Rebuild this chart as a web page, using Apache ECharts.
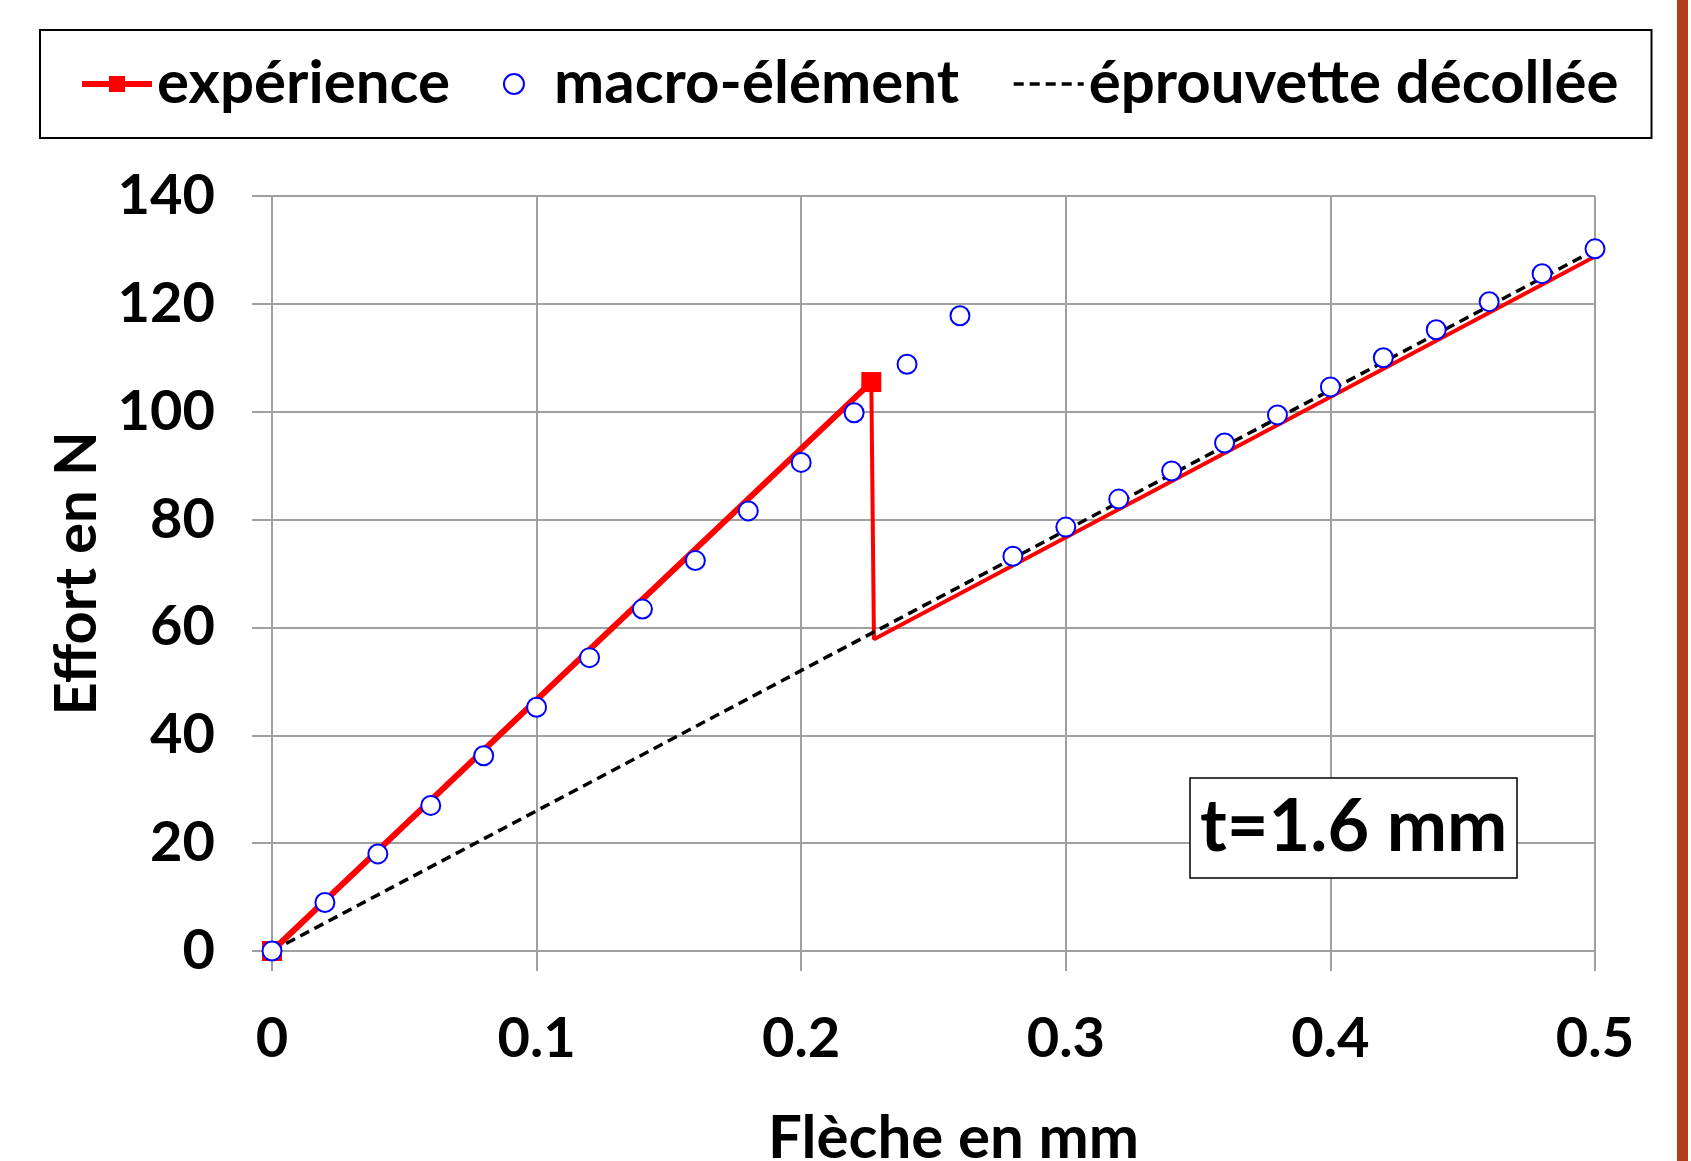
<!DOCTYPE html>
<html>
<head>
<meta charset="utf-8">
<script src="https://cdn.jsdelivr.net/npm/echarts@6/dist/echarts.min.js"></script>
<style>
html,body{margin:0;padding:0;background:#fff;}
#chart{width:1691px;height:1161px;}
</style>
</head>
<body>
<div id="chart"></div>
<script>
// ---- data ----
const expX = [0, 0.2265, 0.2275, 0.5];
const expY = [0, 105.5, 57.8, 128.8];
const macroX = [0, 0.02, 0.04, 0.06, 0.08, 0.10, 0.12, 0.14, 0.16, 0.18, 0.20, 0.22, 0.24, 0.26,
                0.28, 0.30, 0.32, 0.34, 0.36, 0.38, 0.40, 0.42, 0.44, 0.46, 0.48, 0.50];
const macroY = [0, 9.0, 18.0, 27.0, 36.2, 45.2, 54.4, 63.4, 72.4, 81.6, 90.6, 99.8, 108.8, 117.8,
                73.2, 78.6, 83.8, 89.0, 94.2, 99.4, 104.6, 110.0, 115.2, 120.4, 125.6, 130.2];
const decolX = [0, 0.5];
const decolY = [0, 130];
const xTicks = ['0', '0.1', '0.2', '0.3', '0.4', '0.5'];
const yTicks = ['0', '20', '40', '60', '80', '100', '120', '140'];
const legendNames = ['expérience', 'macro-élément', 'éprouvette décollée'];

const zip = (xs, ys) => xs.map((x, i) => [x, ys[i]]);
const expPts = zip(expX, expY);
const expLoading = expPts.slice(0, 2);
const expAfter = expPts.slice(1);

const FONT = 'Lato';
const GRIDC = '#a0a0a0';

const chart = echarts.init(document.getElementById('chart'), null, {renderer: 'canvas'});
chart.setOption({
  animation: false,
  backgroundColor: '#ffffff',
  textStyle: {fontFamily: FONT},
  title: {
    text: 't=1.6 mm',
    left: 1190, top: 778,
    borderColor: '#000', borderWidth: 1.5,
    padding: [10, 10, 10, 10],
    backgroundColor: '#fff',
    textStyle: {fontFamily: FONT, fontSize: 72, fontWeight: 'bold', color: '#000', lineHeight: 80}
  },
  legend: {
    data: [
      {name: legendNames[0], lineStyle: {width: 6}},
      {name: legendNames[1]},
      {name: legendNames[2], lineStyle: {width: 3.5}}
    ],
    left: 40, top: 30,
    orient: 'horizontal',
    borderColor: '#000', borderWidth: 2,
    padding: [24, 33, 24, 39],
    itemWidth: 70, itemHeight: 20, itemGap: 53,
    textStyle: {fontFamily: FONT, fontSize: 60, fontWeight: 'bold', color: '#000', lineHeight: 60}
  },
  grid: {left: 272, right: 96, top: 196, bottom: 210, outerBoundsMode: 'none', containLabel: false},
  xAxis: {
    type: 'value', min: 0, max: 0.5, interval: 0.1,
    name: 'Flèche en mm', nameLocation: 'middle', nameGap: 158,
    nameTextStyle: {fontFamily: FONT, fontSize: 60, fontWeight: 'bold', color: '#000', padding: [0, 0, 0, 40]},
    axisLine: {show: true, lineStyle: {color: GRIDC, width: 2}},
    axisTick: {show: true, length: 20, lineStyle: {color: GRIDC, width: 2}},
    splitLine: {show: true, lineStyle: {color: GRIDC, width: 2}},
    axisLabel: {fontFamily: FONT, fontSize: 56, fontWeight: 'bold', color: '#000', margin: 60,
      formatter: (v) => xTicks[Math.round(v * 10)]}
  },
  yAxis: {
    type: 'value', min: 0, max: 140, interval: 20,
    name: 'Effort en N', nameLocation: 'middle', nameGap: 165, nameRotate: 90,
    nameTextStyle: {fontFamily: FONT, fontSize: 58, fontWeight: 'bold', color: '#000'},
    axisLine: {show: true, lineStyle: {color: GRIDC, width: 2}},
    axisTick: {show: true, length: 20, lineStyle: {color: GRIDC, width: 2}},
    splitLine: {show: true, lineStyle: {color: GRIDC, width: 2}},
    axisLabel: {fontFamily: FONT, fontSize: 56, fontWeight: 'bold', color: '#000', margin: 57,
      formatter: (v) => yTicks[Math.round(v / 20)]}
  },
  series: [
    {
      name: 'expérience', type: 'line', data: expLoading,
      symbol: 'rect', symbolSize: 20, showAllSymbol: true,
      lineStyle: {color: '#ff0000', width: 6},
      itemStyle: {color: '#ff0000'}, z: 2
    },
    {
      name: 'expérience', type: 'line', data: expAfter,
      symbol: 'none', showSymbol: false,
      lineStyle: {color: '#ff0000', width: 4},
      itemStyle: {color: '#ff0000'}, z: 2
    },
    {
      name: 'éprouvette décollée', type: 'line', data: zip(decolX, decolY),
      symbol: 'circle', symbolSize: 0, showSymbol: false,
      lineStyle: {color: '#000000', width: 3.5, type: [10, 6]},
      itemStyle: {color: '#000000', opacity: 0}, z: 3
    },
    {
      name: 'macro-élément', type: 'scatter', data: zip(macroX, macroY),
      symbol: 'circle', symbolSize: 19,
      itemStyle: {color: '#ffffff', borderColor: '#0000ff', borderWidth: 2, opacity: 1}, z: 4
    }
  ],
  graphic: [
    {type: 'rect', shape: {x: 1677, y: 0, width: 11, height: 1161}, style: {fill: '#b23f1b'}, silent: true}
  ]
});
</script>
</body>
</html>
